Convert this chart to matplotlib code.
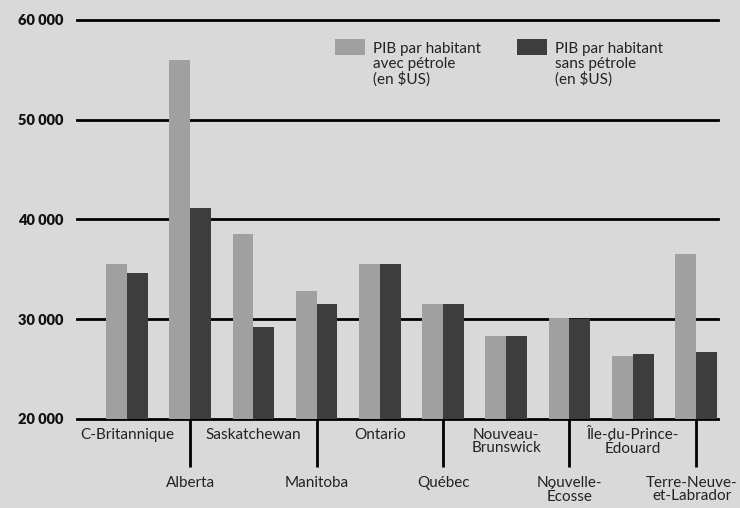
import matplotlib.pyplot as plt
from matplotlib.patches import Rectangle
import numpy as np

# provinces, alternating label rows under the axis
provinces = ["C-Britannique", "Alberta", "Saskatchewan", "Manitoba", "Ontario",
             "Québec", "Nouveau-\nBrunswick", "Nouvelle-\nÉcosse",
             "Île-du-Prince-\nÉdouard", "Terre-Neuve-\net-Labrador"]
avec_petrole = [35500, 56000, 38500, 32800, 35500, 31500, 28300, 30100, 26300, 36500]
sans_petrole = [34600, 41200, 29200, 31500, 35500, 31500, 28300, 30000, 26500, 26700]
yticks = [20000, 30000, 40000, 50000, 60000]
ytick_labels = ["20 000", "30 000", "40 000", "50 000", "60 000"]

bg = "#d9d9d9"
light = "#a0a0a0"
dark = "#3d3d3d"
plt.rcParams['font.family'] = ['Lato', 'DejaVu Sans']

fig = plt.figure(figsize=(7.4, 5.08), dpi=100, facecolor=bg)
ax = fig.add_axes([77 / 740, 89 / 508, 641 / 740, 399 / 508])
ax.set_facecolor(bg)

x = np.arange(len(provinces))
w = 0.33
for yv in yticks:
    ax.axhline(yv, color="black", lw=2, zorder=1, clip_on=False)
ax.bar(x - w / 2, avec_petrole, w, bottom=0, color=light, zorder=2)
ax.bar(x + w / 2, sans_petrole, w, bottom=0, color=dark, zorder=2)

ax.set_xlim(-0.79, 9.35)
ax.set_ylim(20000, 60000)
for s in ax.spines.values():
    s.set_visible(False)
ax.set_xticks([])
ax.set_yticks(yticks)
ax.set_yticklabels(ytick_labels, fontsize=10.5, fontweight="heavy", color="#111111")
ax.tick_params(axis="y", length=0, pad=10)

# category labels on two rows, lower row with connector lines
trans = ax.get_xaxis_transform()
last = len(provinces) - 1
for i, name in enumerate(provinces):
    if i % 2 == 0:
        ax.text(i, -0.022, name, transform=trans, ha="center", va="top",
                fontsize=11, color="#222222", linespacing=0.95)
    else:
        ax.plot([i, i], [0, -0.12], transform=trans, color="black", lw=2,
                clip_on=False, solid_capstyle="butt")
        if i == last:
            # keep the last label inside the figure
            fig.text(738 / 740, 1 - (419 + 57) / 508, name, ha="right", va="top",
                     multialignment="center", fontsize=11, color="#222222",
                     linespacing=0.95)
        else:
            ax.text(i, -0.143, name, transform=trans, ha="center", va="top",
                    fontsize=11, color="#222222", linespacing=0.95)

# legend
for px, col, label in [(335, light, "PIB par habitant\navec pétrole\n(en $US)"),
                       (517, dark, "PIB par habitant\nsans pétrole\n(en $US)")]:
    fig.add_artist(Rectangle((px / 740, 1 - 55 / 508), 30 / 740, 16 / 508,
                             transform=fig.transFigure, color=col, lw=0))
    fig.text((px + 38) / 740, 1 - 42 / 508, label, ha="left", va="top",
             fontsize=11, color="#222222", linespacing=1.05)

fig.savefig("out.png", dpi=100, facecolor=bg)
